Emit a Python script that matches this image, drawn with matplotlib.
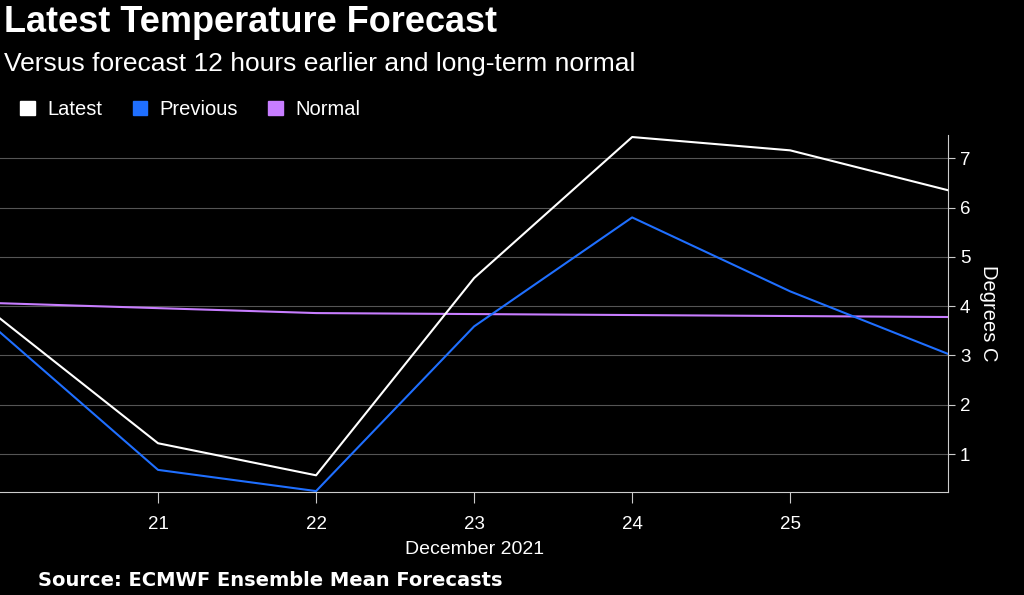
import matplotlib
matplotlib.use("Agg")
import matplotlib.pyplot as plt

days = [20, 21, 22, 23, 24, 25, 26]
latest = [3.75, 1.22, 0.57, 4.57, 7.43, 7.16, 6.35]
previous = [3.47, 0.68, 0.25, 3.59, 5.80, 4.30, 3.03]
normal = [4.06, 3.96, 3.86, 3.84, 3.82, 3.80, 3.78]
xticks = [21, 22, 23, 24, 25]
yticks = [1, 2, 3, 4, 5, 6, 7]

plt.rcParams['font.family'] = ['Liberation Sans', 'DejaVu Sans']
fig = plt.figure(figsize=(10.24, 5.95), dpi=100, facecolor='black')
ax = fig.add_axes([0, 0.173, 0.926, 0.600], facecolor='black')
ax.plot(days, normal, color='#c77dff', lw=1.5)
ax.plot(days, previous, color='#1f6fff', lw=1.5)
ax.plot(days, latest, color='white', lw=1.5)
ax.set_xlim(20, 26)
ax.set_ylim(0.23, 7.47)
ax.set_yticks(yticks)
ax.set_xticks(xticks)
ax.grid(axis='y', color='#555555', lw=0.8)
for s in ['top', 'left']:
    ax.spines[s].set_visible(False)
ax.spines['right'].set_color('#cccccc')
ax.spines['bottom'].set_color('#cccccc')
ax.yaxis.tick_right()
ax.yaxis.set_label_position('right')
ax.tick_params(colors='white', labelsize=13.5)
ax.tick_params(axis='y', length=5, color='#cccccc')
ax.tick_params(axis='x', length=8, pad=9, color='#cccccc')
ax.set_ylabel('Degrees C', color='white', fontsize=14.5, rotation=270, labelpad=20)
ax.set_xlabel('December 2021', color='white', fontsize=14, labelpad=6)

fig.text(0.004, 0.963, 'Latest Temperature Forecast', color='white', fontsize=26, fontweight='bold', va='center')
fig.text(0.004, 0.893, 'Versus forecast 12 hours earlier and long-term normal', color='white', fontsize=19, va='center')
items = [('Latest', 'white', 0.02), ('Previous', '#1f6fff', 0.13), ('Normal', '#c77dff', 0.262)]
for name, c, x in items:
    fig.patches.append(matplotlib.patches.Rectangle((x, 0.806), 0.014, 0.024, color=c, transform=fig.transFigure, figure=fig))
    fig.text(x + 0.026, 0.816, name, color='white', fontsize=14.5, va='center')
fig.text(0.037, 0.025, 'Source: ECMWF Ensemble Mean Forecasts', color='white', fontsize=14, fontweight='bold', va='center', family='DejaVu Sans')
fig.savefig('out.png', facecolor='black')
